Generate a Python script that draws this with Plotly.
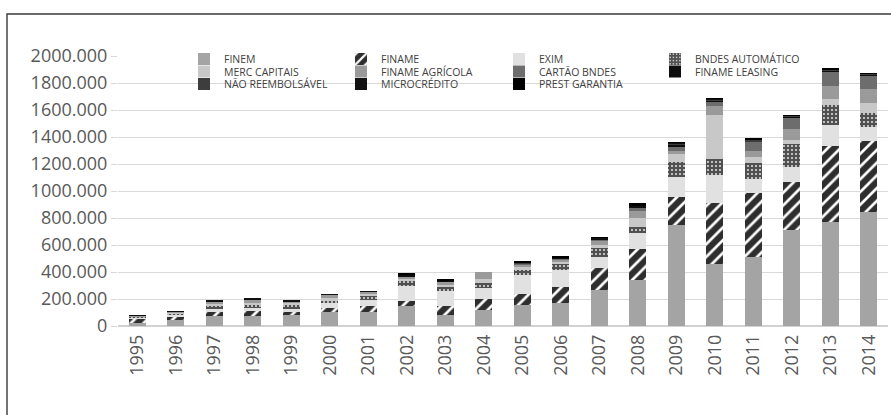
import plotly.graph_objects as go

# Desembolsos por produto, 1995-2014
years = [str(y) for y in range(1995, 2015)]

finem = [20, 44, 73, 73, 80, 102, 102, 151, 81, 122, 154, 171, 264, 342, 750, 457, 511, 709, 770, 841]
finame = [34, 25, 29, 37, 22, 32, 44, 32, 66, 78, 86, 117, 169, 227, 203, 452, 471, 359, 567, 533]
exim = [10, 15, 24, 24, 27, 37, 44, 115, 115, 85, 139, 127, 81, 122, 152, 208, 110, 110, 151, 97]
bndes_automatico = [6, 10, 27, 24, 24, 17, 34, 32, 24, 37, 37, 44, 61, 42, 108, 122, 118, 171, 147, 110]
merc_capitais = [4, 6, 13, 15, 18, 20, 15, 19, 20, 25, 20, 18, 28, 70, 60, 322, 40, 32, 44, 73]
finame_agricola = [3, 5, 14, 20, 10, 23, 14, 16, 20, 51, 20, 19, 28, 50, 25, 69, 45, 78, 98, 98]
cartao_bndes = [0, 0, 0, 0, 0, 0, 0, 0, 0, 0, 10, 5, 10, 27, 30, 35, 70, 85, 110, 105]
finame_leasing = [1, 5, 6, 10, 5, 4, 4, 14, 8, 0, 0, 5, 8, 12, 10, 5, 5, 5, 5, 5]
nao_reembolsavel = [0, 0, 0, 0, 0, 0, 0, 0, 0, 0, 5, 0, 0, 0, 15, 10, 10, 7, 7, 7]
microcredito = [0, 0, 1, 1, 1, 1, 1, 2, 2, 0, 2, 2, 3, 4, 3, 2, 3, 2, 2, 2]
prest_garantia = [0, 0, 0, 0, 0, 0, 0, 6, 6, 0, 3, 5, 5, 13, 5, 2, 3, 3, 3, 3]

series_names = ["FINEM", "FINAME", "EXIM", "BNDES AUTOMÁTICO", "MERC CAPITAIS",
                "FINAME AGRÍCOLA", "CARTÃO BNDES", "FINAME LEASING",
                "NÃO REEMBOLSÁVEL", "MICROCRÉDITO", "PREST GARANTIA"]
series_values = [finem, finame, exim, bndes_automatico, merc_capitais,
                 finame_agricola, cartao_bndes, finame_leasing,
                 nao_reembolsavel, microcredito, prest_garantia]

y_tickvals = [0, 200, 400, 600, 800, 1000, 1200, 1400, 1600, 1800, 2000]
y_ticktext = ["0", "200.000", "400.000", "600.000", "800.000", "1000.000",
              "1200.000", "1400.000", "1600.000", "1800.000", "2000.000"]

# plot-area geometry (pixels)
W, H = 891, 415
L, R, T, B = 118, 3, 56, 89
PW, PH = W - L - R, H - T - B


def px_x(x):
    return (x - L) / PW


def px_y(y):
    return (H - B - y) / PH


solid_colors = {
    "FINEM": "#a4a4a4",
    "EXIM": "#e1e1e1",
    "MERC CAPITAIS": "#c8c8c8",
    "FINAME AGRÍCOLA": "#9a9a9a",
    "CARTÃO BNDES": "#6d6d6d",
    "FINAME LEASING": "#0e0e0e",
    "NÃO REEMBOLSÁVEL": "#3d3d3d",
    "MICROCRÉDITO": "#121212",
    "PREST GARANTIA": "#000000",
}

# legend entry positions: (text start x, row center y) in pixels
legend_pos = {
    "FINEM": (224, 59),
    "MERC CAPITAIS": (224, 71.5),
    "NÃO REEMBOLSÁVEL": (224, 84),
    "FINAME": (381, 59),
    "FINAME AGRÍCOLA": (381, 71.5),
    "MICROCRÉDITO": (381, 84),
    "EXIM": (539, 59),
    "CARTÃO BNDES": (539, 71.5),
    "PREST GARANTIA": (539, 84),
    "BNDES AUTOMÁTICO": (695, 59),
    "FINAME LEASING": (695, 71.5),
}

fig = go.Figure()
layout_legends = {}
for i, (name, vals) in enumerate(zip(series_names, series_values)):
    if name == "FINAME":
        marker = dict(color="#2e2e2e", line=dict(width=0),
                      pattern=dict(shape="/", fgcolor="#ffffff", bgcolor="#2e2e2e",
                                   fillmode="replace", size=9, solidity=0.3))
    elif name == "BNDES AUTOMÁTICO":
        marker = dict(color="#505050", line=dict(width=0),
                      pattern=dict(shape=".", fgcolor="#e6e6e6", bgcolor="#505050",
                                   fillmode="replace", size=4, solidity=0.2))
    else:
        marker = dict(color=solid_colors[name], line=dict(width=0))
    lid = "legend" if i == 0 else f"legend{i + 1}"
    fig.add_trace(go.Bar(x=years, y=vals, name=name, marker=marker,
                         legend=lid, showlegend=True))
    tx, ty = legend_pos[name]
    layout_legends[lid] = dict(
        x=px_x(tx - 40), y=px_y(ty), xanchor="left", yanchor="middle",
        bgcolor="rgba(0,0,0,0)", borderwidth=0, visible=True,
        font=dict(family="Open Sans", size=10.5, color="#404040"),
    )

# white panel behind the legend block
fig.add_shape(type="rect", xref="paper", yref="paper",
              x0=px_x(195), x1=px_x(816), y0=px_y(92), y1=px_y(50),
              fillcolor="white", line=dict(width=0), layer="between")

# outer frame
fig.add_shape(type="path", xref="paper", yref="paper",
              path=f"M {px_x(7)} {px_y(430)} L {px_x(7)} {px_y(14)} L {px_x(900)} {px_y(14)}",
              line=dict(color="#3a3a3a", width=1.4), layer="above")

fig.update_layout(
    width=W, height=H,
    margin=dict(l=L, r=R, t=T, b=B),
    barmode="stack",
    bargap=0.57,
    showlegend=True,
    plot_bgcolor="white",
    paper_bgcolor="white",
    font=dict(family="Open Sans", color="#595959"),
    xaxis=dict(type="category", tickangle=-90, showgrid=False, showline=False,
               ticks="", tickfont=dict(size=18, color="#595959"),
               ticklabelstandoff=4),
    yaxis=dict(range=[0, 2000], tickvals=y_tickvals, ticktext=y_ticktext,
               showgrid=True, gridcolor="#d9d9d9", gridwidth=1.2,
               zeroline=True, zerolinecolor="#d2d2d2", zerolinewidth=1.5,
               ticks="outside", ticklen=6, tickcolor="#d9d9d9",
               showline=False, tickfont=dict(size=18, color="#595959")),
    **layout_legends,
)

fig.write_html("out.html")
